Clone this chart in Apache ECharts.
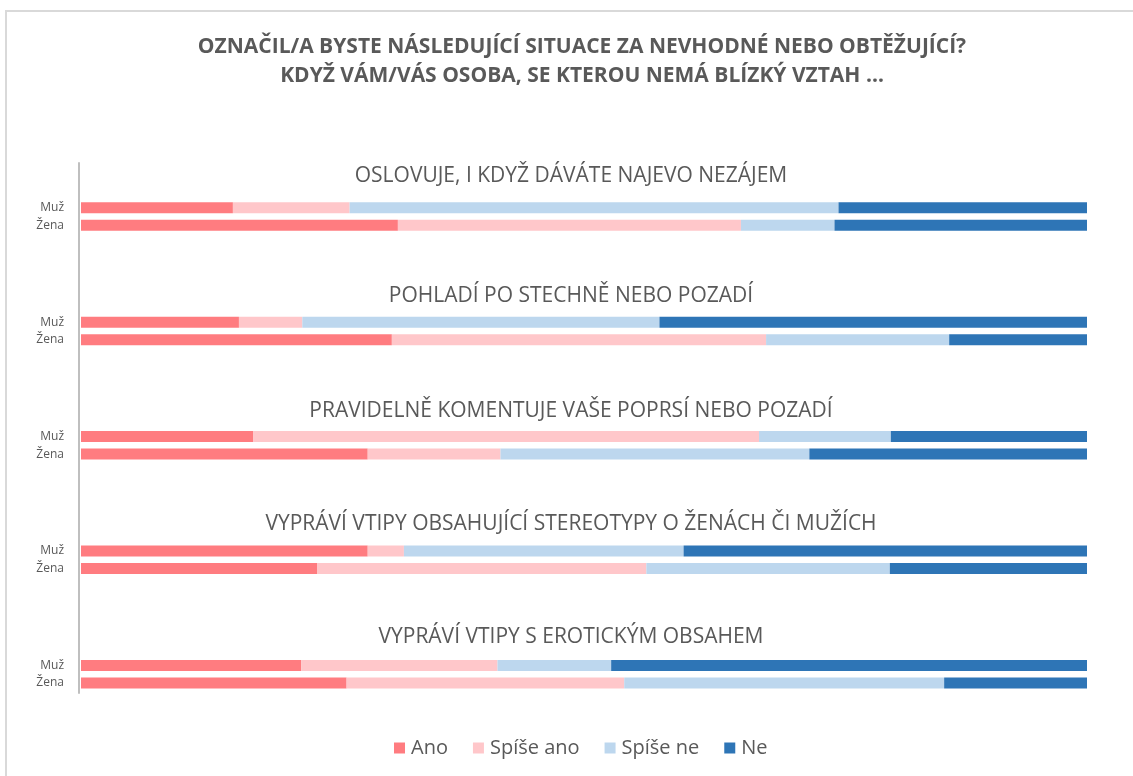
<!DOCTYPE html>
<html>
<head>
<meta charset="utf-8">
<script src="https://cdn.jsdelivr.net/npm/echarts@6/dist/echarts.min.js"></script>
<style>
  html, body { margin: 0; padding: 0; background: #fff; }
  .frame {
    position: absolute; left: 5px; top: 10px; width: 1140px; height: 780px;
    border-left: 2px solid #d9d9d9; border-top: 2px solid #d9d9d9;
  }
  #chart { position: absolute; left: 0; top: 0; width: 1133px; height: 776px; }
</style>
</head>
<body>
<div class="frame"></div>
<div id="chart"></div>
<script>
// otázky (skupiny) a pohlaví
const groups = [
  'OSLOVUJE, I KDYŽ DÁVÁTE NAJEVO NEZÁJEM',
  'POHLADÍ PO STECHNĚ NEBO POZADÍ',
  'PRAVIDELNĚ KOMENTUJE VAŠE POPRSÍ NEBO POZADÍ',
  'VYPRÁVÍ VTIPY OBSAHUJÍCÍ STEREOTYPY O ŽENÁCH ČI MUŽÍCH',
  'VYPRÁVÍ VTIPY S EROTICKÝM OBSAHEM'
]
const genders = ['Muž', 'Žena']
const answers = ['Ano', 'Spíše ano', 'Spíše ne', 'Ne']

// podíly v % pro [Muž, Žena] v každé skupině
const ano = [[15.1, 31.5], [15.7, 30.9], [17.1, 28.5], [28.5, 23.5], [21.9, 26.4]]
const spiseAno = [[11.6, 34.1], [6.3, 37.2], [50.3, 13.2], [3.6, 32.7], [19.5, 27.6]]
const spiseNe = [[48.6, 9.3], [35.5, 18.2], [13.1, 30.7], [27.8, 24.2], [11.3, 31.8]]
const ne = [[24.7, 25.1], [42.5, 13.7], [19.5, 27.6], [40.1, 19.6], [47.3, 14.2]]

const valuesByAnswer = [ano, spiseAno, spiseNe, ne]
const colors = ['#FF7C80', '#FFC7CA', '#BDD7EE', '#2E75B6']

const textColor = '#595959'
const firstBar = 207.8   // střed prvního pruhu (Muž) první skupiny
const groupStep = 114.4
const barStep = 17.5
const titleTops = [159, 279, 394, 507, 620]

const chart = echarts.init(document.getElementById('chart'))

const grids = []
const xAxes = []
const yAxes = []
const series = []
const titles = [{
  text: 'OZNAČIL/A BYSTE NÁSLEDUJÍCÍ SITUACE ZA NEVHODNÉ NEBO OBTĚŽUJÍCÍ?\nKDYŽ VÁM/VÁS OSOBA, SE KTEROU NEMÁ BLÍZKÝ VZTAH …',
  left: 577,
  textAlign: 'center',
  top: 28,
  textStyle: {
    color: textColor,
    fontFamily: 'Open Sans',
    fontSize: 21,
    fontWeight: 'bold',
    lineHeight: 29
  }
}]

groups.forEach((g, i) => {
  const top = firstBar + i * groupStep - barStep / 2
  grids.push({ left: 81, right: 46, top: top, height: barStep * 2 })
  xAxes.push({ gridIndex: i, type: 'value', min: 0, max: 100, show: false })
  yAxes.push({
    gridIndex: i,
    type: 'category',
    inverse: true,
    data: genders,
    axisLine: { show: false },
    axisTick: { show: false },
    axisLabel: { color: textColor, fontSize: 12, margin: 17, fontFamily: 'Open Sans' }
  })
  titles.push({
    text: g,
    left: 566,
    textAlign: 'center',
    top: titleTops[i],
    textStyle: { color: textColor, fontFamily: 'Open Sans', fontSize: 21, fontWeight: 'normal', lineHeight: 24 }
  })
  answers.forEach((a, k) => {
    series.push({
      name: a,
      type: 'bar',
      stack: 'g' + i,
      xAxisIndex: i,
      yAxisIndex: i,
      barWidth: 11,
      data: valuesByAnswer[k][i],
      itemStyle: { color: colors[k] },
      emphasis: { disabled: true }
    })
  })
})

// svislá osa přes všechny skupiny
grids.push({ left: 79, width: 1, top: 163, height: 530 })
xAxes.push({ gridIndex: groups.length, type: 'value', show: false })
yAxes.push({
  gridIndex: groups.length,
  type: 'value',
  min: 0,
  max: 1,
  axisLine: { show: true, lineStyle: { color: '#bfbfbf', width: 2 } },
  axisTick: { show: false },
  axisLabel: { show: false },
  splitLine: { show: false }
})

const option = {
  animation: false,
  title: titles,
  legend: {
    data: answers,
    left: 389,
    top: 733,
    itemWidth: 11,
    itemHeight: 11,
    itemGap: 25,
    icon: 'rect',
    textStyle: { color: textColor, fontSize: 20, fontFamily: 'Open Sans', padding: [0, 0, 0, 1] }
  },
  grid: grids,
  xAxis: xAxes,
  yAxis: yAxes,
  series: series
}

chart.setOption(option)
</script>
</body>
</html>
